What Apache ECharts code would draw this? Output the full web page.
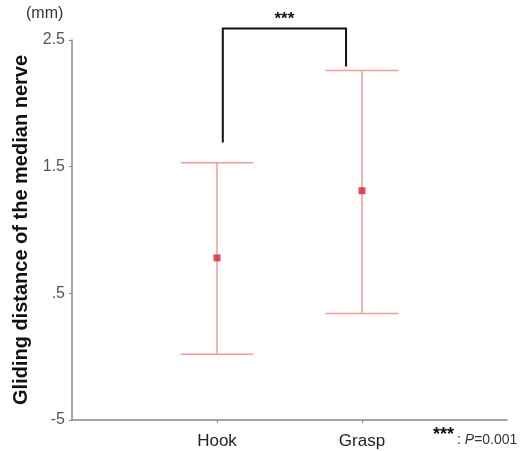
<!DOCTYPE html>
<html>
<head>
<meta charset="utf-8">
<script src="https://cdn.jsdelivr.net/npm/echarts@6/dist/echarts.min.js"></script>
<style>
  html, body { margin: 0; padding: 0; background: #fff; }
  #chart { width: 524px; height: 451px; }
</style>
</head>
<body>
<div id="chart"></div>
<script>
const categories = ['Hook', 'Grasp']
const catPos = [1, 2]
const means = [0.78, 1.31]
const upper = [1.53, 2.26]
const lower = [0.02, 0.34]
const yTickValues = [-0.5, 0.5, 1.5, 2.5]
const yTickLabels = ['-5', '.5', '1.5', '2.5']
// significance bracket: x of both legs, top, bottom of each leg
const bracketX = [1.04, 1.89]
const bracketTop = 2.59
const bracketEnds = [1.69, 2.29]

const font = 'Liberation Sans, Arial, sans-serif'
const chart = echarts.init(document.getElementById('chart'))

const options = {
  animation: false,
  grid: { left: 72, right: 17, top: 40, bottom: 31 },
  xAxis: {
    type: 'value',
    min: 0,
    max: 3,
    splitLine: { show: false },
    axisLine: { onZero: false, lineStyle: { color: '#888', width: 1.5 } },
    axisTick: { customValues: catPos, length: 3, lineStyle: { color: '#888' } },
    axisLabel: {
      customValues: catPos,
      color: '#222',
      fontFamily: font,
      fontSize: 17,
      margin: 13,
      formatter: (v) => categories[catPos.indexOf(v)] || ''
    }
  },
  yAxis: {
    type: 'value',
    min: -0.5,
    max: 2.5,
    splitLine: { show: false },
    axisLine: { show: true, lineStyle: { color: '#888', width: 1.5 } },
    axisTick: { show: true, customValues: yTickValues, length: 3, lineStyle: { color: '#888' } },
    axisLabel: {
      customValues: yTickValues,
      color: '#555',
      fontFamily: font,
      fontSize: 16,
      margin: 7,
      formatter: (v) => yTickLabels[yTickValues.indexOf(v)] || ''
    },
    name: 'Gliding distance of the median nerve',
    nameLocation: 'middle',
    nameGap: 35,
    nameTextStyle: { color: '#111', fontFamily: font, fontSize: 20, fontWeight: 'bold' }
  },
  graphic: [
    {
      type: 'text',
      left: 26,
      top: 6,
      style: { text: '(mm)', fill: '#333', font: '16px ' + font }
    },
    {
      type: 'text',
      left: 433,
      top: 426,
      style: {
        text: '{s|***}{c|: }{i|P}{p|=0.001}',
        rich: {
          s: { fill: '#111', font: 'bold 18px ' + font, verticalAlign: 'top' },
          c: { fill: '#333', font: '14px ' + font, padding: [7, 0, 0, 3] },
          p: { fill: '#333', font: '14px ' + font, padding: [7, 0, 0, 0] },
          i: { fill: '#333', font: 'italic 14px ' + font, padding: [7, 0, 0, 0] }
        }
      }
    }
  ],
  series: [
    {
      type: 'custom',
      name: 'error',
      data: catPos.map((x, i) => [x, lower[i], upper[i]]),
      renderItem: (params, api) => {
        const x = api.value(0)
        const lo = api.coord([x, api.value(1)])
        const hi = api.coord([x, api.value(2)])
        const half = api.size([0.25, 0])[0]
        const style = { stroke: '#f29a9a', lineWidth: 1.5 }
        return {
          type: 'group',
          children: [
            { type: 'line', shape: { x1: lo[0], y1: lo[1], x2: hi[0], y2: hi[1] }, style },
            { type: 'line', shape: { x1: hi[0] - half, y1: hi[1], x2: hi[0] + half, y2: hi[1] }, style },
            { type: 'line', shape: { x1: lo[0] - half, y1: lo[1], x2: lo[0] + half, y2: lo[1] }, style }
          ]
        }
      },
      z: 2
    },
    {
      type: 'scatter',
      name: 'mean',
      symbol: 'rect',
      symbolSize: 7,
      itemStyle: { color: '#dd2233' },
      data: catPos.map((x, i) => [x, means[i]]),
      z: 3
    },
    {
      type: 'custom',
      name: 'bracket',
      clip: false,
      data: [[bracketX[0], bracketEnds[0], bracketX[1], bracketEnds[1], bracketTop]],
      renderItem: (params, api) => {
        const a = api.coord([api.value(0), api.value(1)])
        const at = api.coord([api.value(0), api.value(4)])
        const bt = api.coord([api.value(2), api.value(4)])
        const b = api.coord([api.value(2), api.value(3)])
        return {
          type: 'group',
          children: [
            {
              type: 'polyline',
              shape: { points: [a, at, bt, b] },
              style: { stroke: '#111', lineWidth: 2, fill: null }
            },
            {
              type: 'text',
              x: (at[0] + bt[0]) / 2,
              y: at[1] - 1,
              style: {
                text: '***',
                fill: '#111',
                font: 'bold 17px ' + font,
                align: 'center',
                verticalAlign: 'bottom'
              }
            }
          ]
        }
      },
      z: 4
    }
  ]
}

chart.setOption(options)
</script>
</body>
</html>
